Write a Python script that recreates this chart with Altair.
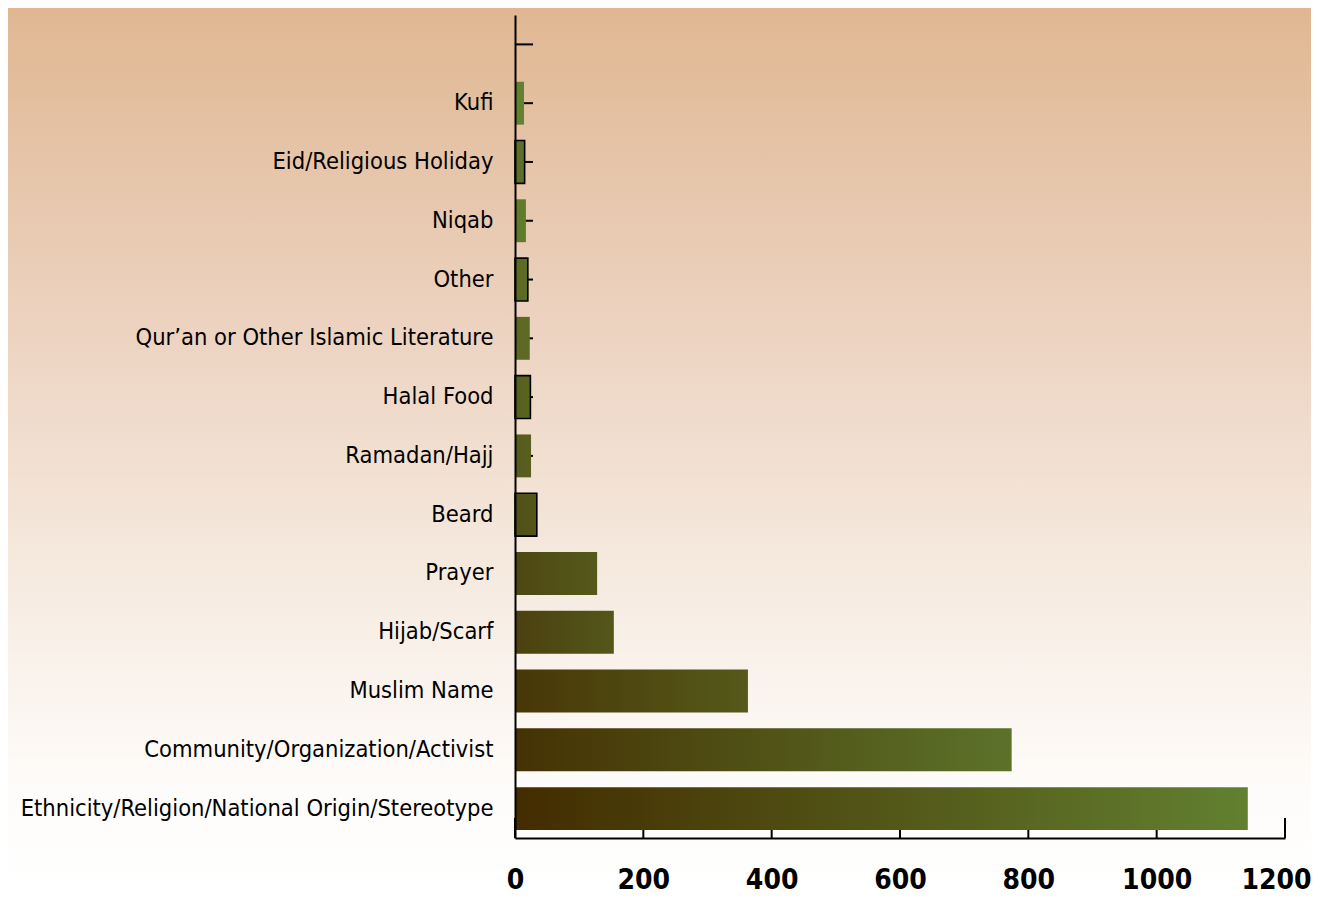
import altair as alt

categories = [
    "Kufi",
    "Eid/Religious Holiday",
    "Niqab",
    "Other",
    "Qur\u2019an or Other Islamic Literature",
    "Halal Food",
    "Ramadan/Hajj",
    "Beard",
    "Prayer",
    "Hijab/Scarf",
    "Muslim Name",
    "Community/Organization/Activist",
    "Ethnicity/Religion/National Origin/Stereotype",
]
values = [14, 15, 17, 20, 23, 24, 25, 34, 128, 154, 363, 774, 1142]
x_ticks = [0, 200, 400, 600, 800, 1000, 1200]

# styling (per-bar gradient start/end colours and outline flags)
grad_start = ["#62802f", "#5c6e26", "#5f7a2a", "#5a6a22", "#5a6823", "#57611f",
              "#555b1c", "#505017", "#4e4712", "#4b4010", "#483707", "#453204", "#432c00"]
grad_end = ["#63822f", "#5e7127", "#617c2b", "#5c6d24", "#5c6b24", "#5a6420",
            "#585f1e", "#545519", "#55591b", "#54561a", "#55591a", "#5c7229", "#628030"]
outlined = [0, 1, 0, 1, 0, 1, 0, 1, 0, 0, 0, 0, 0]

W, H = 770, 823
FONT = "Liberation Sans Narrow, DejaVu Sans Condensed, sans-serif"
domain_y = [" "] + categories

bar_rows = []
for c, v, s, e, o in zip(categories, values, grad_start, grad_end, outlined):
    bar_rows.append({
        "cat": c,
        "val": v,
        "grad": {"gradient": "linear", "x1": 0, "y1": 0, "x2": 1, "y2": 0,
                 "stops": [{"offset": 0, "color": s}, {"offset": 1, "color": e}]},
        "sw": 1.6 if o else 0,
    })

y_enc = alt.Y("cat:N", scale=alt.Scale(domain=domain_y, paddingInner=0.27, paddingOuter=0.135),
              sort=None,
              axis=alt.Axis(title=None, labelFont=FONT, labelFontSize=23.5, labelColor="black",
                            labelPadding=22, ticks=False, tickSize=0, domainColor="black",
                            domainWidth=2, grid=False, zindex=1, labelLimit=600))
x_enc = alt.X("val:Q", scale=alt.Scale(domain=[0, 1200], nice=False),
              axis=alt.Axis(title=None, values=x_ticks, format="d", labelFont=FONT,
                            labelFontSize=28, labelFontWeight="bold", labelColor="black",
                            labelPadding=28, ticks=False, tickSize=0, domainColor="black",
                            domainWidth=2, grid=False, zindex=1, labelFlush=False,
                            labelAlign=alt.condition("datum.value == 1200", alt.value("right"), alt.value("center")),
                            labelOffset=alt.condition("datum.value == 1200", alt.value(26), alt.value(0))))

bg = alt.Chart(alt.Data(values=[{"a": 1}])).mark_rect(
    fill={"gradient": "linear", "x1": 0, "y1": 0, "x2": 0, "y2": 1,
          "stops": [{"offset": 0, "color": "#e0b792"},
                    {"offset": 0.35, "color": "#ecd2bf"},
                    {"offset": 0.65, "color": "#f6ebe1"},
                    {"offset": 0.88, "color": "#fefcfa"},
                    {"offset": 1, "color": "#ffffff"}]}
).encode(x=alt.value(-507), x2=alt.value(W + 26), y=alt.value(-7), y2=alt.value(H + 57))

ytick = alt.Chart(alt.Data(values=[{"cat": c} for c in domain_y])).mark_rule(
    color="black", strokeWidth=2
).encode(y=alt.Y("cat:N", sort=None), x=alt.value(0), x2=alt.value(18))

xtick = alt.Chart(alt.Data(values=[{"val": v} for v in x_ticks])).mark_rule(
    color="black", strokeWidth=2
).encode(x=alt.X("val:Q"), y=alt.value(H - 20), y2=alt.value(H))

bars = alt.Chart(alt.Data(values=bar_rows)).mark_bar(stroke="black").encode(
    y=y_enc,
    x=x_enc,
    fill=alt.Fill("grad:N", scale=None),
    strokeWidth=alt.StrokeWidth("sw:Q", scale=None),
)

chart = alt.layer(bg, ytick, xtick, bars).properties(
    width=W, height=H,
    autosize=alt.AutoSizeParams(type="none"),
    padding={"left": 507, "top": 7, "right": 26, "bottom": 57},
).configure_view(stroke=None).configure(background="white")

chart.save("out.html", embed_options={"renderer": "svg", "actions": False})
